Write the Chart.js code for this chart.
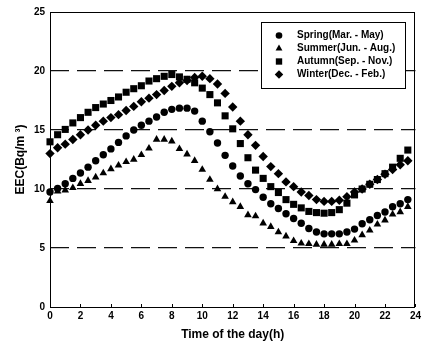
<!DOCTYPE html>
<html><head><meta charset="utf-8">
<script src="https://cdn.jsdelivr.net/npm/chart.js@4/dist/chart.umd.min.js"></script>
<style>html,body{margin:0;padding:0;background:#fff}</style>
</head><body>
<canvas id="c" width="424" height="354"></canvas>
<script>
const hours = [0,0.5,1,1.5,2,2.5,3,3.5,4,4.5,5,5.5,6,6.5,7,7.5,8,8.5,9,9.5,10,10.5,11,11.5,12,12.5,13,13.5,14,14.5,15,15.5,16,16.5,17,17.5,18,18.5,19,19.5,20,20.5,21,21.5,22,22.5,23,23.5];
const spring = [9.75,10.05,10.45,10.9,11.35,11.85,12.4,12.9,13.4,13.95,14.5,15.0,15.4,15.75,16.1,16.5,16.75,16.85,16.85,16.6,15.75,14.85,13.9,12.85,11.95,11.1,10.45,9.95,9.3,8.75,8.35,7.9,7.5,7.1,6.65,6.35,6.2,6.2,6.2,6.35,6.6,7.05,7.4,7.75,8.05,8.5,8.75,9.1];
const summer = [9.0,9.8,9.9,10.1,10.45,10.7,11.0,11.35,11.7,12.0,12.3,12.5,12.9,13.45,14.2,14.2,14.05,13.4,12.95,12.4,11.65,10.8,10.0,9.35,8.9,8.5,7.8,7.7,7.1,6.8,6.35,6.0,5.6,5.4,5.35,5.3,5.3,5.3,5.35,5.35,5.65,6.1,6.5,7.0,7.35,7.85,8.05,8.5];
const autumn = [14.0,14.6,15.05,15.6,16.05,16.5,16.9,17.2,17.5,17.8,18.2,18.5,18.75,19.15,19.35,19.55,19.7,19.5,19.3,19.0,18.55,18.0,17.3,16.2,15.1,13.85,12.65,11.6,10.9,10.2,9.7,9.1,8.7,8.4,8.1,8.0,7.95,8.0,8.25,8.8,9.5,10.0,10.4,10.8,11.3,11.85,12.6,13.3];
const winter = [13.0,13.5,13.8,14.2,14.6,15.0,15.4,15.75,16.05,16.3,16.65,17.0,17.4,17.7,18.0,18.35,18.7,19.0,19.2,19.45,19.55,19.35,18.9,18.1,16.95,15.75,14.6,13.7,12.75,11.9,11.3,10.6,10.2,9.75,9.45,9.1,8.95,8.95,9.05,9.35,9.75,10.0,10.4,10.8,11.25,11.65,12.05,12.4];
const seriesLabels = ['Spring(Mar. - May)','Summer(Jun. - Aug.)','Autumn(Sep. - Nov.)','Winter(Dec. - Feb.)'];
const xTicks = [0,2,4,6,8,10,12,14,16,18,20,22,24];
const yTicks = [0,5,10,15,20,25];
const xTitle = 'Time of the day(h)';
const yTitle = 'EEC(Bq/m \u00B3)';

const FONT = '"Liberation Sans", Arial, sans-serif';
const styles = [
  {pointStyle:'circle', radius:3.7},
  {pointStyle:'triangle', radius:4.4},
  {pointStyle:'rect', radius:5},
  {pointStyle:'rectRot', radius:4.7}
];
const values = [spring, summer, autumn, winter];
const datasets = values.map((arr, i) => ({
  label: seriesLabels[i],
  data: hours.map((h, j) => ({x: h, y: arr[j]})),
  showLine: false,
  pointStyle: styles[i].pointStyle,
  pointRadius: styles[i].radius,
  pointHoverRadius: styles[i].radius,
  pointBackgroundColor: '#000',
  pointBorderColor: '#000',
  pointBorderWidth: 0,
  clip: false
}));

const framePlugin = {
  id: 'frame',
  afterDraw(chart) {
    const ctx = chart.ctx, a = chart.chartArea;
    ctx.save();
    ctx.strokeStyle = '#000';
    ctx.lineWidth = 1;
    ctx.strokeRect(Math.round(a.left) + 0.5, Math.round(a.top) + 0.5, Math.round(a.right - a.left) - 1, Math.round(a.bottom - a.top));
    const xs = chart.scales.x;
    ctx.beginPath();
    xTicks.forEach(v => {
      const px = Math.round(xs.getPixelForValue(v)) + 0.5;
      ctx.moveTo(px, a.bottom);
      ctx.lineTo(px, a.bottom - 3);
    });
    ctx.stroke();
    // legend
    const L = {x: 261.5, y: 22.5, w: 144, h: 66};
    ctx.fillStyle = '#fff';
    ctx.fillRect(L.x, L.y, L.w, L.h);
    ctx.strokeRect(L.x, L.y, L.w, L.h);
    ctx.font = 'bold 10px ' + FONT;
    ctx.textBaseline = 'middle';
    ctx.textAlign = 'left';
    seriesLabels.forEach((lab, i) => {
      const y = 35.5 + i * 13;
      ctx.fillStyle = '#000';
      Chart.helpers.drawPoint(ctx, {pointStyle: styles[i].pointStyle, radius: styles[i].radius * 0.9, rotation: 0, borderWidth: 0}, 279, y);
      ctx.fillStyle = '#000';
      ctx.fillText(lab, 297, y);
    });
    ctx.restore();
  }
};

new Chart(document.getElementById('c'), {
  type: 'scatter',
  data: {datasets},
  options: {
    responsive: false,
    animation: false,
    devicePixelRatio: 1,
    layout: {padding: {left: 0, right: 6, top: 12, bottom: 0}},
    plugins: {legend: {display: false}, tooltip: {enabled: false}},
    scales: {
      x: {
        type: 'linear', min: 0, max: 24,
        afterFit: s => { s.height = 47; },
        afterBuildTicks: s => { s.ticks = xTicks.map(v => ({value: v})); },
        ticks: {color: '#000', font: {family: FONT, size: 10, weight: 'bold'}, padding: 3, maxRotation: 0, autoSkip: false},
        grid: {display: true, drawOnChartArea: false, drawTicks: false},
        border: {display: false},
        title: {display: true, text: xTitle, color: '#000', font: {family: FONT, size: 12, weight: 'bold'}, padding: {top: 0, bottom: 12}}
      },
      y: {
        type: 'linear', min: 0, max: 25,
        afterFit: s => { s.width = 50; },
        afterBuildTicks: s => { s.ticks = yTicks.map(v => ({value: v})); },
        ticks: {color: '#000', font: {family: FONT, size: 10, weight: 'bold'}, padding: 5},
        grid: {
          drawTicks: false,
          color: c => (c.tick && (c.tick.value === 0 || c.tick.value === 25)) ? 'rgba(0,0,0,0)' : '#111',
          lineWidth: 1.2
        },
        border: {display: false, dash: [19, 8]},
        title: {display: true, text: yTitle, color: '#000', font: {family: FONT, size: 12, weight: 'bold'}, padding: {top: 13, bottom: 0}}
      }
    }
  },
  plugins: [framePlugin]
});
</script>
</body></html>
